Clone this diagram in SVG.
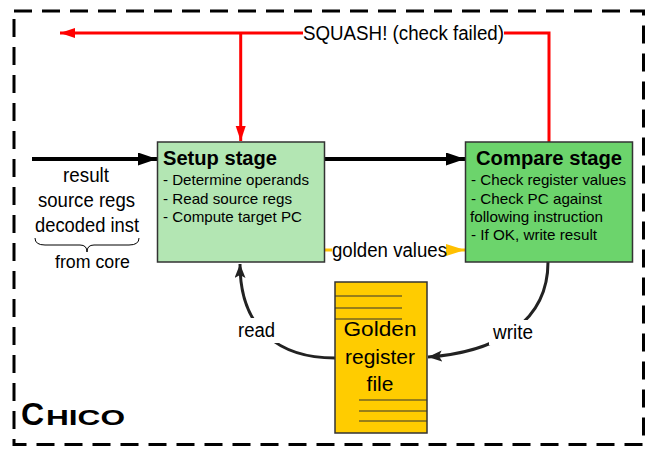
<svg xmlns="http://www.w3.org/2000/svg" width="651" height="450" viewBox="0 0 651 450">
<style>
text{font-family:"Liberation Sans",Arial,sans-serif;fill:#000}
.lbl{font-size:20px}
.body{font-size:15px}
.title{font-size:20px;font-weight:bold}
.red{stroke:#ff0000;stroke-width:3;fill:none}
.blk{stroke:#000;stroke-width:4;fill:none}
.crv{stroke:#222;stroke-width:3;fill:none}
.gold{stroke:#ffc000;stroke-width:3;fill:none}
.reg{stroke:#333;stroke-width:1.2}
</style>
<defs>
<marker id="aRed" markerUnits="userSpaceOnUse" markerWidth="16" markerHeight="12" refX="15" refY="5" orient="auto"><path d="M0,0 L15,5 L0,10 Z" fill="#ff0000"/></marker>
<marker id="aBlk" markerUnits="userSpaceOnUse" markerWidth="20" markerHeight="14" refX="19" refY="6.5" orient="auto"><path d="M0,0 L19,6.5 L0,13 Z" fill="#000"/></marker>
<marker id="aGold" markerUnits="userSpaceOnUse" markerWidth="20" markerHeight="14" refX="19" refY="6" orient="auto"><path d="M0,0 L19,6 L0,12 Z" fill="#ffc000"/></marker>
<marker id="aCrv" markerUnits="userSpaceOnUse" markerWidth="16" markerHeight="12" refX="14" refY="5.5" orient="auto"><path d="M0,0 L14,5.5 L0,11 L3,5.5 Z" fill="#222"/></marker>
</defs>
<rect width="651" height="450" fill="#fff"/>
<rect id="chico-frame" x="14" y="11" width="629.5" height="433.5" fill="none" stroke="#000" stroke-width="3" stroke-dasharray="18 10"/>
<g id="chico-label">
<text x="21" y="425" font-size="32" font-weight="bold">C</text>
<text x="46" y="425" font-size="22" font-weight="bold" textLength="79" lengthAdjust="spacingAndGlyphs">HICO</text>
</g>
<g id="connectors">
<path class="red" d="M549,143 V33 H504"/>
<path class="red" d="M303,33 H60" marker-end="url(#aRed)"/>
<path class="red" d="M240.7,33 V141" marker-end="url(#aRed)"/>
<path class="blk" d="M32,159 H157" marker-end="url(#aBlk)"/>
<path class="blk" d="M325,159 H465" marker-end="url(#aBlk)"/>
<path class="gold" d="M325,250 H332"/>
<path class="gold" d="M447,250 H465" marker-end="url(#aGold)"/>
<path class="crv" d="M335,358 C280,358 240,330 240,264" marker-end="url(#aCrv)"/>
<path class="crv" d="M548,262 C548,320 500,352 428,357" marker-end="url(#aCrv)"/>
<rect x="234" y="318" width="45" height="25" fill="#fff"/>
<rect x="489" y="320" width="48" height="25" fill="#fff"/>
<text class="lbl" x="303" y="40" textLength="201" lengthAdjust="spacingAndGlyphs">SQUASH! (check failed)</text>
<text class="lbl" x="332" y="257" textLength="115" lengthAdjust="spacingAndGlyphs">golden values</text>
<text class="lbl" x="238" y="337" textLength="37" lengthAdjust="spacingAndGlyphs">read</text>
<text class="lbl" x="493" y="339" textLength="40" lengthAdjust="spacingAndGlyphs">write</text>
</g>
<g id="inputs">
<text class="lbl" x="63" y="182" textLength="46" lengthAdjust="spacingAndGlyphs">result</text>
<text class="lbl" x="38" y="207" textLength="97" lengthAdjust="spacingAndGlyphs">source regs</text>
<text class="lbl" x="35" y="232" textLength="104" lengthAdjust="spacingAndGlyphs">decoded inst</text>
<path d="M35,238 Q35,245 45,245 L80,245 Q87,245 87,252 Q87,245 94,245 L129,245 Q139,245 139,238" fill="none" stroke="#000" stroke-width="1"/>
<text x="55" y="268" font-size="18" textLength="75" lengthAdjust="spacingAndGlyphs">from core</text>
</g>
<g id="setup-stage">
<rect x="157.5" y="142" width="167" height="120" fill="#b3e6b3" stroke="#333" stroke-width="1.5"/>
<text class="title" x="163" y="165" textLength="114" lengthAdjust="spacingAndGlyphs">Setup stage</text>
<text class="body" x="163" y="185" textLength="146" lengthAdjust="spacingAndGlyphs">- Determine operands</text>
<text class="body" x="163" y="203.5" textLength="129" lengthAdjust="spacingAndGlyphs">- Read source regs</text>
<text class="body" x="163" y="222" textLength="139" lengthAdjust="spacingAndGlyphs">- Compute target PC</text>
</g>
<g id="compare-stage">
<rect x="465.5" y="142" width="167" height="120" fill="#6cd46c" stroke="#333" stroke-width="1.5"/>
<text class="title" x="476" y="165" textLength="146" lengthAdjust="spacingAndGlyphs">Compare stage</text>
<text class="body" x="471" y="185" textLength="155" lengthAdjust="spacingAndGlyphs">- Check register values</text>
<text class="body" x="471" y="203.5" textLength="131" lengthAdjust="spacingAndGlyphs">- Check PC against</text>
<text class="body" x="470" y="222" textLength="133" lengthAdjust="spacingAndGlyphs">following instruction</text>
<text class="body" x="471" y="239.5" textLength="126" lengthAdjust="spacingAndGlyphs">- If OK, write result</text>
</g>
<g id="golden-register-file">
<rect x="335" y="282" width="92" height="151" fill="#ffcc00" stroke="#333" stroke-width="1.5"/>
<path class="reg" d="M335,296 H402 M335,308 H402 M335,319 H402 M359,400 H427 M359,411 H427 M359,421 H427"/>
<text x="380" y="336" font-size="21" text-anchor="middle" textLength="73" lengthAdjust="spacingAndGlyphs">Golden</text>
<text x="380" y="364" font-size="21" text-anchor="middle">register</text>
<text x="380" y="391" font-size="21" text-anchor="middle">file</text>
</g>
</svg>
